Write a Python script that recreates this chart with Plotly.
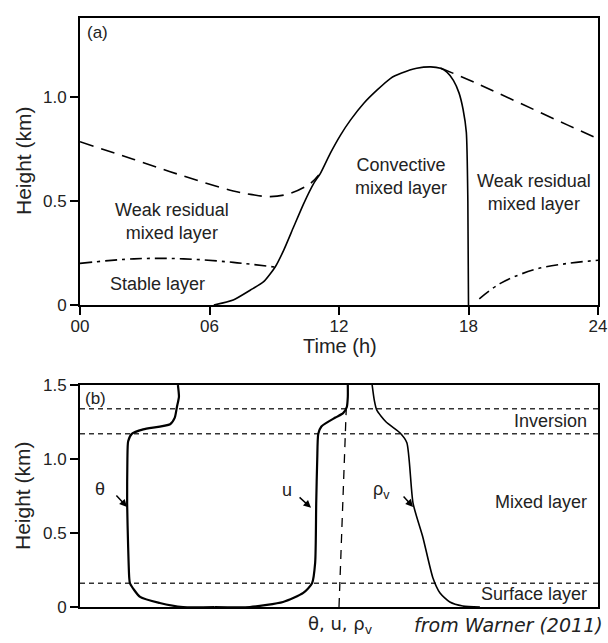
import plotly.graph_objects as go

W, H = 608, 643

# ---------------- Panel (a): diurnal boundary-layer evolution ----------------
# convective mixed layer top (solid)
cbl_t = [6.2, 7.1, 7.9, 8.51, 9.05, 9.44, 9.9, 10.37, 10.83, 11.14, 11.6, 12.07, 12.53, 13.15, 13.77, 14.39, 14.9, 15.6, 16.25, 16.7, 17.0, 17.3, 17.56, 17.75, 17.9, 17.97, 18.0]
cbl_h = [0.0, 0.024, 0.072, 0.112, 0.184, 0.264, 0.376, 0.489, 0.585, 0.633, 0.73, 0.817, 0.889, 0.97, 1.034, 1.09, 1.115, 1.138, 1.145, 1.138, 1.12, 1.08, 1.02, 0.94, 0.83, 0.5, 0.0]
# residual layer top, morning (dashed)
rl_am_t = [0, 2.5, 4.8, 7.1, 7.9, 8.82, 9.75, 10.68, 11.06]
rl_am_h = [0.785, 0.70, 0.62, 0.548, 0.532, 0.521, 0.537, 0.585, 0.625]
# residual layer top, evening (dashed)
rl_pm_t = [16.7, 18.5, 20.5, 22.6, 24]
rl_pm_h = [1.14, 1.06, 0.965, 0.865, 0.80]
# stable layer top, morning (dash-dot)
sl_am_t = [0, 2.5, 4.8, 7.1, 9.05]
sl_am_h = [0.20, 0.222, 0.222, 0.205, 0.182]
# stable layer top, evening (dash-dot)
sl_pm_t = [18.5, 19.5, 21.05, 22.6, 24]
sl_pm_h = [0.03, 0.105, 0.17, 0.20, 0.215]

time_ticks = [0, 6, 12, 18, 24]
time_ticktext = ["00", "06", "12", "18", "24"]
hgt_ticks_a = [0, 0.5, 1.0]
hgt_ticktext_a = ["0", "0.5", "1.0"]
sunrise_t, sunset_t = 4.85, 19.13

# ---------------- Panel (b): mixed-layer profiles ----------------
theta_h = [1.5, 1.42, 1.35, 1.28, 1.235, 1.2, 1.17, 1.12, 1.0, 0.7, 0.4, 0.2, 0.16, 0.068, 0.027, 0.0, 0.0]
theta_x = [18.9, 19.1, 18.7, 18.3, 17.4, 12.2, 10.0, 9.3, 9.15, 9.1, 9.3, 9.5, 9.65, 11.6, 15.4, 19.9, 26.0]
u_h = [0.0, 0.0, 0.034, 0.095, 0.16, 0.3, 0.7, 1.0, 1.17, 1.22, 1.28, 1.31, 1.35, 1.42, 1.5]
u_x = [26.0, 32.8, 39.2, 43.1, 44.8, 45.4, 45.6, 45.8, 46.0, 46.6, 49.3, 50.8, 51.5, 51.7, 51.7]
rho_h = [1.5, 1.40, 1.33, 1.25, 1.176, 1.11, 0.70, 0.47, 0.2, 0.095, 0.034, 0.007, 0.0]
rho_x = [56.4, 56.8, 57.3, 59.1, 61.8, 63.1, 64.3, 66.2, 68.1, 69.5, 71.4, 73.9, 77.2]
ref_h = [0.0, 1.34]
ref_x = [50.0, 51.4]
layer_bounds = [0.16, 1.17, 1.34]
hgt_ticks_b = [0, 0.5, 1.0, 1.5]
hgt_ticktext_b = ["0", "0.5", "1.0", "1.5"]

FONT = "Liberation Sans, Arial, sans-serif"
FONT2 = "DejaVu Sans, Verdana, sans-serif"
TXT = "#222222"

fig = go.Figure()

lw = 1.6
fig.add_trace(go.Scatter(x=cbl_t, y=cbl_h, mode="lines", line=dict(color="black", width=lw, shape="spline", smoothing=0.6), xaxis="x", yaxis="y"))
fig.add_trace(go.Scatter(x=rl_am_t, y=rl_am_h, mode="lines", line=dict(color="black", width=lw, dash="14px,8px", shape="spline"), xaxis="x", yaxis="y"))
fig.add_trace(go.Scatter(x=rl_pm_t, y=rl_pm_h, mode="lines", line=dict(color="black", width=lw, dash="14px,8px", shape="spline"), xaxis="x", yaxis="y"))
fig.add_trace(go.Scatter(x=sl_am_t, y=sl_am_h, mode="lines", line=dict(color="black", width=lw, dash="12px,5px,3px,5px", shape="spline"), xaxis="x", yaxis="y"))
fig.add_trace(go.Scatter(x=sl_pm_t, y=sl_pm_h, mode="lines", line=dict(color="black", width=lw, dash="12px,5px,3px,5px", shape="spline"), xaxis="x", yaxis="y"))

for hb in layer_bounds:
    fig.add_trace(go.Scatter(x=[0, 100], y=[hb, hb], mode="lines", line=dict(color="#333333", width=1.5, dash="5px,4px"), xaxis="x2", yaxis="y2"))
fig.add_trace(go.Scatter(x=ref_x, y=ref_h, mode="lines", line=dict(color="black", width=1.3, dash="9px,7px"), xaxis="x2", yaxis="y2"))
fig.add_trace(go.Scatter(x=theta_x, y=theta_h, mode="lines", line=dict(color="black", width=2.2, shape="spline", smoothing=0.6), xaxis="x2", yaxis="y2"))
fig.add_trace(go.Scatter(x=u_x, y=u_h, mode="lines", line=dict(color="black", width=2.2, shape="spline", smoothing=0.6), xaxis="x2", yaxis="y2"))
fig.add_trace(go.Scatter(x=rho_x, y=rho_h, mode="lines", line=dict(color="black", width=1.6, shape="spline", smoothing=0.6), xaxis="x2", yaxis="y2"))

x_dom = [80 / W, 598 / W]
ya_dom = [1 - 305 / H, 1 - 18 / H]
yb_dom = [1 - 607 / H, 1 - 385 / H]

axis_common = dict(showline=True, mirror=True, linecolor="black", linewidth=2, showgrid=False, zeroline=False,
                   automargin=False, tickfont=dict(family=FONT, size=17, color=TXT))

fig.update_layout(
    width=W, height=H, margin=dict(l=0, r=0, t=0, b=0, pad=0, autoexpand=False),
    paper_bgcolor="white", plot_bgcolor="white", showlegend=False,
    font=dict(family=FONT, color=TXT),
    xaxis=dict(domain=x_dom, range=[0, 24], anchor="y", tickmode="array", tickvals=time_ticks, ticktext=time_ticktext,
               ticks="outside", ticklen=8, tickwidth=2, tickcolor="black", ticklabelstandoff=-3, **axis_common),
    yaxis=dict(domain=ya_dom, range=[0, 1.38], anchor="x", tickmode="array", tickvals=hgt_ticks_a, ticktext=hgt_ticktext_a,
               ticks="outside", ticklen=8, tickwidth=2, tickcolor="black", **axis_common),
    xaxis2=dict(domain=x_dom, range=[0, 100], anchor="y2", showticklabels=False, ticks="", **axis_common),
    yaxis2=dict(domain=yb_dom, range=[0, 1.5], anchor="x2", tickmode="array", tickvals=hgt_ticks_b, ticktext=hgt_ticktext_b,
                ticks="outside", ticklen=8, tickwidth=2, tickcolor="black", **axis_common),
)

ann = []
def txt(x, y, s, size=18, xref="x", yref="y", xanchor="center", yanchor="middle", **kw):
    ann.append(dict(x=x, y=y, xref=xref, yref=yref, text=s, showarrow=False, xanchor=xanchor, yanchor=yanchor,
                    font=dict(family=kw.pop("family", FONT), size=size, color=TXT), **kw))

def arrow(x, y, ax, ay, xref="x", yref="y", width=1.5, size=1.0):
    ann.append(dict(x=x, y=y, ax=ax, ay=ay, xref=xref, yref=yref, axref=xref, ayref=yref, text="",
                    showarrow=True, arrowhead=2, arrowsize=size, arrowwidth=width, arrowcolor="black", standoff=0, startstandoff=0))

# panel (a) text
txt(97 / W, 1 - 33 / H, "(a)", size=17, xref="paper", yref="paper")
txt(4.27, 0.40, "Weak residual<br>mixed layer")
txt(3.57, 0.10, "Stable layer")
txt(14.86, 0.62, "Convective<br>mixed layer")
txt(21.03, 0.543, "Weak residual<br>mixed layer")
arrow(sunrise_t, -0.01, sunrise_t, -0.087)
arrow(sunset_t, -0.01, sunset_t, -0.087)
txt(sunrise_t, -0.135, "SR")
txt(sunset_t, -0.135, "SS")
txt(340 / W, 1 - 346 / H, "Time (h)", size=20, xref="paper", yref="paper")
txt(23 / W, 1 - 161 / H, "Height (km)", size=21, xref="paper", yref="paper", textangle=-90)

# panel (b) text
txt(95 / W, 1 - 398 / H, "(b)", size=17, xref="paper", yref="paper")
txt(98.3, 1.26, "Inversion", xref="x2", yref="y2", xanchor="right")
txt(98.3, 0.71, "Mixed layer", xref="x2", yref="y2", xanchor="right")
txt(98.3, 0.088, "Surface layer", xref="x2", yref="y2", xanchor="right")
txt(3.86, 0.80, "θ", xref="x2", yref="y2")
arrow(9.07, 0.676, 6.76, 0.764, xref="x2", yref="y2")
txt(40.0, 0.79, "u", xref="x2", yref="y2")
arrow(44.6, 0.67, 42.1, 0.75, xref="x2", yref="y2")
txt(58.3, 0.79, "ρ<sub>v</sub>", xref="x2", yref="y2")
arrow(64.3, 0.676, 62.2, 0.757, xref="x2", yref="y2")
txt(23 / W, 1 - 496 / H, "Height (km)", size=21, xref="paper", yref="paper", textangle=-90)
txt(340 / W, 1 - 625 / H, "θ, u, ρ<sub>v</sub>", size=18, xref="paper", yref="paper", family=FONT2)
txt(508 / W, 1 - 625 / H, "<i>from Warner (2011)</i>", size=19, xref="paper", yref="paper", family=FONT2)

fig.update_layout(annotations=ann)
fig.write_html("out.html")
